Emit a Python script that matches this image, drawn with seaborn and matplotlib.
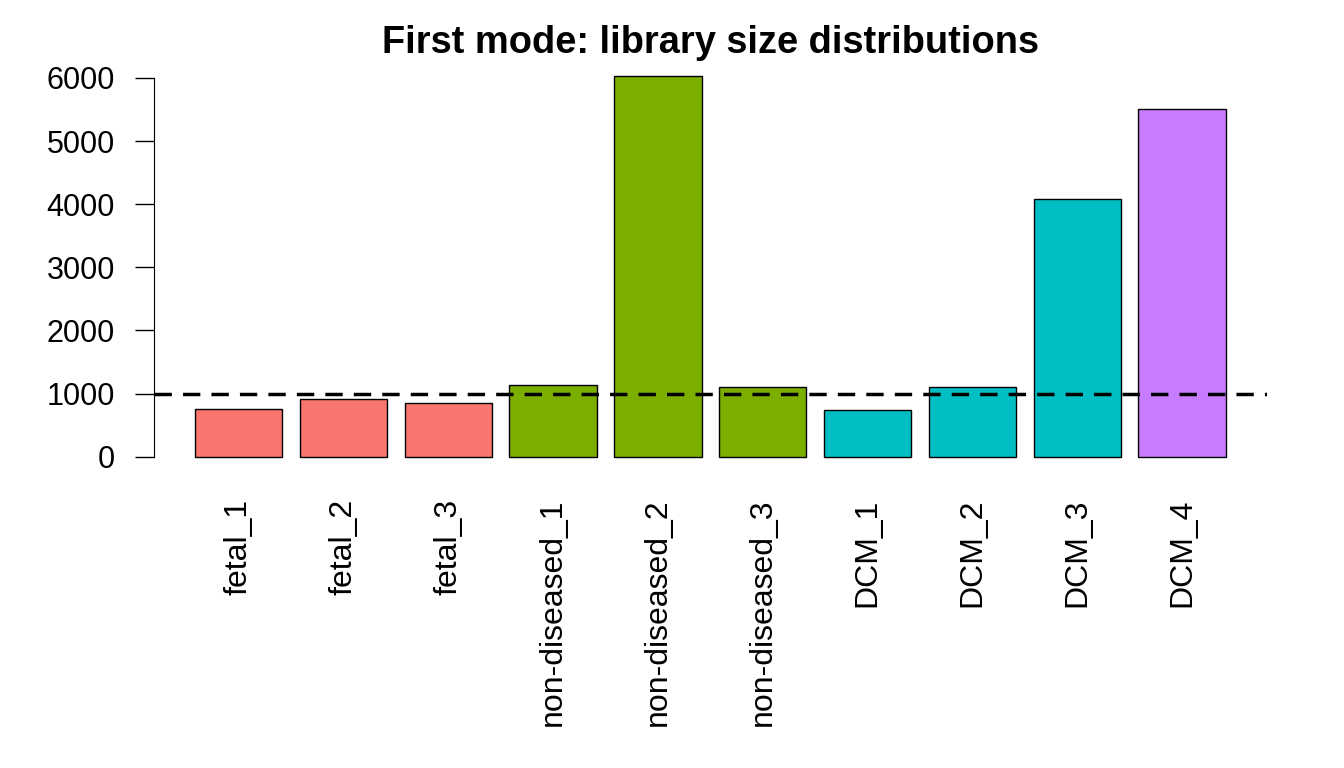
import numpy as np
import pandas as pd
import matplotlib
matplotlib.use("Agg")
import matplotlib.pyplot as plt
import seaborn as sns

samples = ["fetal_1", "fetal_2", "fetal_3", "non-diseased_1", "non-diseased_2",
           "non-diseased_3", "DCM_1", "DCM_2", "DCM_3", "DCM_4"]
groups  = ["fetal", "fetal", "fetal", "non-diseased", "non-diseased",
           "non-diseased", "DCM_a", "DCM_a", "DCM_a", "DCM_b"]
lib_size = [750, 908, 855, 1130, 6026, 1099, 739, 1108, 4075, 5500]
palette  = {"fetal": "#F8766D", "non-diseased": "#7CAE00",
            "DCM_a": "#00BFC4", "DCM_b": "#C77CFF"}
threshold = 1000
yticks    = [0, 1000, 2000, 3000, 4000, 5000, 6000]

df = pd.DataFrame({"sample": samples, "group": groups, "size": lib_size})

sns.set_style("white")
plt.rcParams["font.family"] = ["Liberation Sans", "DejaVu Sans"]
plt.rcParams["text.color"] = "black"
plt.rcParams["xtick.color"] = "black"
plt.rcParams["ytick.color"] = "black"

fig = plt.figure(figsize=(13.44, 7.68), dpi=100)
ax = fig.add_axes([153.8 / 1344, (768 - 472) / 768,
                   (1267 - 153.8) / 1344, (472 - 61) / 768])

sns.barplot(data=df, x="sample", y="size", hue="group", palette=palette,
            dodge=False, legend=False, width=1 / 1.2, edgecolor="black",
            linewidth=1.0, saturation=1, ax=ax)
ax.axhline(threshold, color="black", linestyle=(0, (5, 3.2)), linewidth=2.5)

ax.set_xlim(-0.81, 9.81)
ax.set_ylim(-241, 6267)
for s in ["top", "right", "bottom"]:
    ax.spines[s].set_visible(False)
ax.spines["left"].set_bounds(0, 6000)
ax.spines["left"].set_color("black")
ax.set_yticks(yticks)
ax.set_yticklabels([str(v) for v in yticks], fontsize=22)
ax.tick_params(axis="y", length=14, width=1, color="black", pad=14, left=True)
ax.tick_params(axis="x", length=0, pad=19, labelsize=23, labelrotation=90)
ax.set_xlabel("")
ax.set_ylabel("")
ax.set_title("First mode: library size distributions", fontsize=27.4,
             fontweight="bold", pad=6, color="black")

fig.savefig("out.png", dpi=100)
